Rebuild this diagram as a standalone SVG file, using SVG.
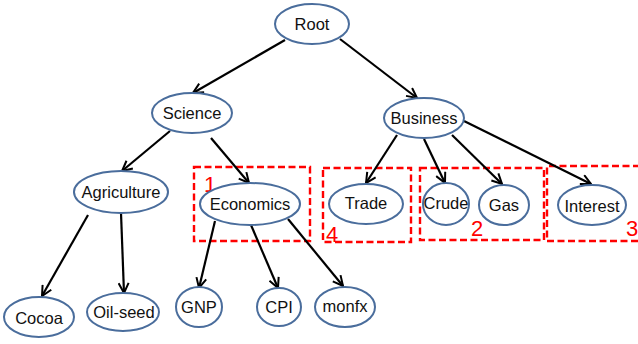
<svg xmlns="http://www.w3.org/2000/svg" width="638" height="344" viewBox="0 0 638 344">
  <style>
    .node ellipse { fill: #ffffff; stroke: #4a6d9c; stroke-width: 2; }
    .node text { font-family: "Liberation Sans", Arial, sans-serif; font-size: 16.5px; fill: #111111; text-anchor: middle; dominant-baseline: central; }
    .edge { stroke: #000000; stroke-width: 2.2; fill: none; marker-end: url(#arrow); }
    .box { fill: none; stroke: #ff0000; stroke-width: 2.4; stroke-dasharray: 7 3.5; }
    .num { font-family: "Liberation Sans", Arial, sans-serif; font-size: 22px; fill: #ff0000; }
  </style>
  <defs>
    <marker id="arrow" viewBox="0 0 12 12" refX="11" refY="6" markerWidth="12" markerHeight="12" markerUnits="userSpaceOnUse" orient="auto">
      <polyline points="1,1 11,6 1,11" fill="none" stroke="#000000" stroke-width="2"/>
    </marker>
  </defs>

  <rect width="638" height="344" fill="#ffffff"/>

  <!-- cluster boxes -->
  <g id="clusters">
    <rect class="box" x="194" y="167" width="116" height="74"/>
    <text class="num" x="204" y="192">1</text>
    <rect class="box" x="323" y="168" width="88" height="74"/>
    <text class="num" x="326" y="242">4</text>
    <rect class="box" x="420" y="168" width="124" height="72"/>
    <text class="num" x="471" y="236">2</text>
    <path class="box" d="M640,166 H547 V241 H640"/>
    <text class="num" x="626" y="236">3</text>
  </g>

  <!-- connectors -->
  <g id="edges">
    <line class="edge" x1="285" y1="40" x2="193" y2="93"/>
    <line class="edge" x1="340" y1="39" x2="417" y2="98"/>
    <line class="edge" x1="170" y1="131" x2="122" y2="171"/>
    <line class="edge" x1="211" y1="138" x2="249" y2="183"/>
    <line class="edge" x1="88" y1="215" x2="42" y2="296"/>
    <line class="edge" x1="121" y1="213" x2="124" y2="293"/>
    <line class="edge" x1="215" y1="221" x2="199" y2="288"/>
    <line class="edge" x1="251" y1="225" x2="278" y2="288"/>
    <line class="edge" x1="288" y1="219" x2="343" y2="286"/>
    <line class="edge" x1="397" y1="135" x2="366" y2="183"/>
    <line class="edge" x1="424" y1="139" x2="445" y2="183"/>
    <line class="edge" x1="452" y1="135" x2="502" y2="184"/>
    <line class="edge" x1="464" y1="121" x2="591" y2="184"/>
  </g>

  <!-- nodes -->
  <g id="root" class="node"><ellipse cx="312" cy="24" rx="37" ry="20"/><text x="312" y="24">Root</text></g>
  <g id="science" class="node"><ellipse cx="192" cy="113" rx="40" ry="20"/><text x="192" y="113">Science</text></g>
  <g id="business" class="node"><ellipse cx="424" cy="118" rx="40" ry="20"/><text x="424" y="118">Business</text></g>
  <g id="agriculture" class="node"><ellipse cx="121" cy="192" rx="47" ry="21"/><text x="121" y="192">Agriculture</text></g>
  <g id="economics" class="node"><ellipse cx="250" cy="204" rx="50" ry="21"/><text x="250" y="204">Economics</text></g>
  <g id="cocoa" class="node"><ellipse cx="39" cy="317" rx="35" ry="20"/><text x="39" y="318">Cocoa</text></g>
  <g id="oilseed" class="node"><ellipse cx="123" cy="312" rx="36" ry="19"/><text x="124" y="312">Oil-seed</text></g>
  <g id="gnp" class="node"><ellipse cx="199" cy="307" rx="23" ry="20"/><text x="199" y="307">GNP</text></g>
  <g id="cpi" class="node"><ellipse cx="279" cy="307" rx="22" ry="19"/><text x="279" y="307">CPI</text></g>
  <g id="monfx" class="node"><ellipse cx="345" cy="307" rx="30" ry="20"/><text x="345" y="306">monfx</text></g>
  <g id="trade" class="node"><ellipse cx="366" cy="204" rx="37" ry="20"/><text x="366" y="203">Trade</text></g>
  <g id="crude" class="node"><ellipse cx="446" cy="204" rx="23" ry="21"/><text x="446" y="203">Crude</text></g>
  <g id="gas" class="node"><ellipse cx="504" cy="205" rx="25" ry="20"/><text x="504" y="205">Gas</text></g>
  <g id="interest" class="node"><ellipse cx="592" cy="205" rx="34" ry="20"/><text x="592" y="206">Interest</text></g>
</svg>
